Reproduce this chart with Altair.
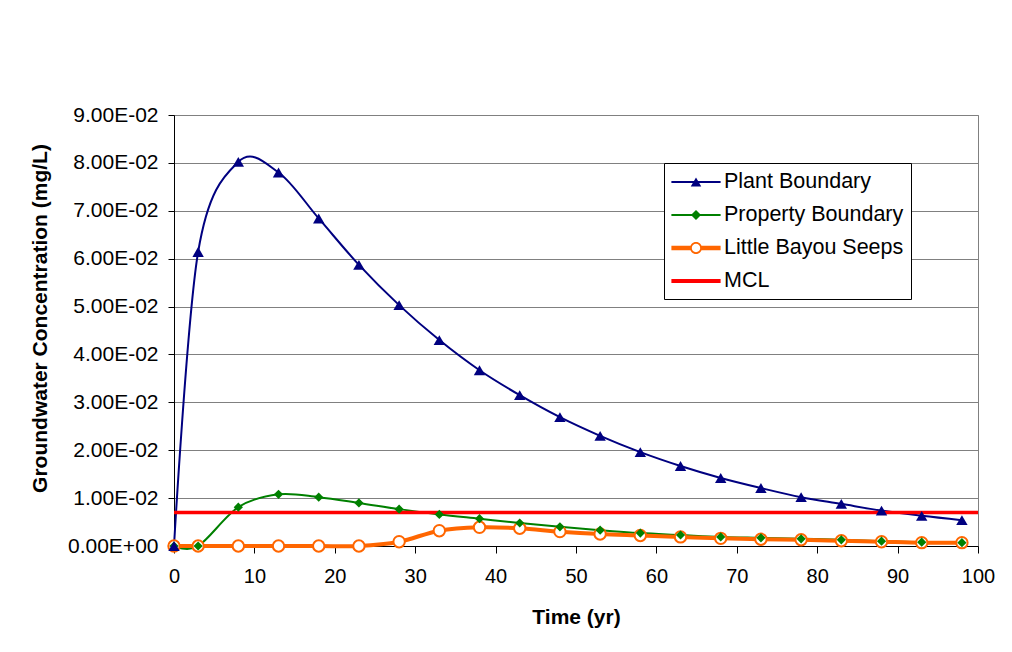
import altair as alt
import pandas as pd

# ---------------- data ----------------
years = [0, 3, 8, 13, 18, 23, 28, 33, 38, 43, 48, 53, 58, 63, 68, 73, 78, 83, 88, 93, 98]
plant_boundary = [0.0, 0.0614, 0.0802, 0.0780, 0.0684, 0.0587, 0.0503, 0.0430, 0.0367, 0.0315,
                  0.0269, 0.0230, 0.0196, 0.0167, 0.0142, 0.0121, 0.0102, 0.0088, 0.0074, 0.0063, 0.0054]
property_boundary = [0.0, 0.0, 0.0081, 0.0108, 0.0102, 0.0090, 0.0077, 0.0066, 0.0057, 0.0048,
                     0.0040, 0.0033, 0.0027, 0.0023, 0.0019, 0.0017, 0.0015, 0.0013, 0.0010, 0.0008, 0.0007]
little_bayou = [0.0, 0.0, 0.0, 0.0, 0.0, 0.0, 0.0009, 0.0032, 0.0039, 0.0037,
                0.0030, 0.0025, 0.0022, 0.0019, 0.0016, 0.0014, 0.0013, 0.0011, 0.0009, 0.0007, 0.0007]
mcl_years = [0, 100]
mcl_values = [0.007, 0.007]

series_names = ["Plant Boundary", "Property Boundary", "Little Bayou Seeps", "MCL"]
series_colors = ["#000080", "#008000", "#FF6600", "#FF0000"]

x_ticks = [0, 10, 20, 30, 40, 50, 60, 70, 80, 90, 100]
y_ticks = [0.0, 0.01, 0.02, 0.03, 0.04, 0.05, 0.06, 0.07, 0.08, 0.09]

x_title = "Time (yr)"
y_title = "Groundwater Concentration (mg/L)"

FONT = "Liberation Sans"

# ---------------- tables ----------------
rows = []
for name, vals in zip(series_names[:3], [plant_boundary, property_boundary, little_bayou]):
    for yr, v in zip(years, vals):
        rows.append({"year": yr, "value": v, "series": name})
for yr, v in zip(mcl_years, mcl_values):
    rows.append({"year": yr, "value": v, "series": "MCL"})
df = pd.DataFrame(rows)

# legend symbols: line segment + marker, as custom paths
L = 2.05
legend_paths = [
    f"M{-L},-0.083H{L}V0.083H{-L}Z M0,-0.38L0.44,0.38L-0.44,0.38Z",
    f"M{-L},-0.083H{L}V0.083H{-L}Z M0,-0.42L0.42,0L0,0.42L-0.42,0Z",
    f"M{-L},-0.18H-0.4V0.18H{-L}Z M0.4,-0.18H{L}V0.18H0.4Z "
    "M0.5,0A0.5,0.5 0 1,1 -0.5,0A0.5,0.5 0 1,1 0.5,0Z "
    "M0.35,0A0.35,0.35 0 1,0 -0.35,0A0.35,0.35 0 1,0 0.35,0Z",
    f"M{-L},-0.16H{L}V0.16H{-L}Z",
]

x_enc = alt.X(
    "year:Q",
    scale=alt.Scale(domain=[0, 100], nice=False, zero=False),
    axis=alt.Axis(
        values=x_ticks, title=x_title, grid=False,
        domainColor="black", tickColor="black", tickSize=7,
        labelFont=FONT, labelFontSize=20, labelColor="black", labelPadding=13,
        labelFlush=False,
        titleFont=FONT, titleFontSize=21, titleFontWeight="bold", titleColor="black",
        titleY=77, titleBaseline="alphabetic",
    ),
)
y_enc = alt.Y(
    "value:Q",
    scale=alt.Scale(domain=[0, 0.09], nice=False),
    axis=alt.Axis(
        values=y_ticks, title=y_title,
        labelExpr="datum.value == 0 ? '0.00E+00' : format(datum.value * 100, '.2f') + 'E-02'",
        grid=True, gridColor="#808080", gridWidth=1,
        domainColor="black", tickColor="black", tickSize=6,
        labelFont=FONT, labelFontSize=21, labelColor="black", labelPadding=10,
        titleFont=FONT, titleFontSize=21, titleFontWeight="bold", titleColor="black",
        titleX=-134, titleY=203, titleAngle=270, titleBaseline="middle",
    ),
)

base = alt.Chart(df).encode(x=x_enc, y=y_enc)


def series_line(name, color, width, interp):
    return base.transform_filter(alt.datum.series == name).mark_line(
        color=color, strokeWidth=width, interpolate=interp
    )


lines = [
    series_line(series_names[0], series_colors[0], 2, "cardinal"),
    series_line(series_names[1], series_colors[1], 2, "cardinal"),
    series_line(series_names[2], series_colors[2], 4, "cardinal"),
    series_line(series_names[3], series_colors[3], 3.5, "linear"),
]

pts_bayou = base.transform_filter(alt.datum.series == series_names[2]).mark_point(
    shape="circle", filled=True, fill="white", stroke=series_colors[2],
    strokeWidth=2, size=130, opacity=1
)
pts_prop = base.transform_filter(alt.datum.series == series_names[1]).mark_point(
    shape="diamond", filled=True, fill=series_colors[1], size=85, opacity=1
)
pts_plant = base.transform_filter(alt.datum.series == series_names[0]).mark_point(
    shape="triangle-up", filled=True, fill=series_colors[0], size=130, opacity=1
)

legend = alt.Legend(
    title=None, orient="none", legendX=490, legendY=48,
    symbolSize=576, symbolStrokeWidth=0, symbolOffset=13, labelOffset=16,
    labelFont=FONT, labelFontSize=21.5, labelColor="black", labelLimit=400,
    rowPadding=10, padding=7, strokeColor="black", fillColor="white",
)
legend_layer = alt.Chart(pd.DataFrame({"series": series_names})).transform_filter(
    "false"
).mark_point(filled=True, opacity=1).encode(
    color=alt.Color("series:N", scale=alt.Scale(domain=series_names, range=series_colors),
                    legend=legend),
    shape=alt.Shape("series:N", scale=alt.Scale(domain=series_names, range=legend_paths),
                    legend=legend),
)

chart = alt.layer(
    *lines, pts_bayou, pts_prop, pts_plant, legend_layer
).properties(
    width=804, height=431,
    autosize=alt.AutoSizeParams(type="none"),
    padding={"left": 166, "top": 107, "right": 26, "bottom": 90},
    background="white",
).configure_view(stroke="#808080", strokeWidth=1)

chart.save("out.html", embed_options={"renderer": "svg", "actions": False})
